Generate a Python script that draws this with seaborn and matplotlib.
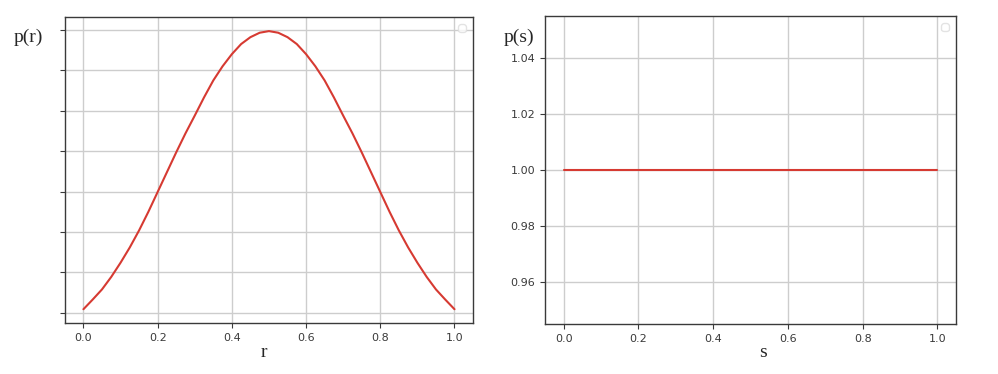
import matplotlib
matplotlib.use("Agg")
import matplotlib.pyplot as plt
import seaborn as sns

# values (left: bell shaped p(r), right: flat p(s))
r_vals = [0.0, 0.025, 0.05, 0.075, 0.1, 0.125, 0.15, 0.175, 0.2, 0.225, 0.25,
          0.275, 0.3, 0.325, 0.35, 0.375, 0.4, 0.425, 0.45, 0.475, 0.5,
          0.525, 0.55, 0.575, 0.6, 0.625, 0.65, 0.675, 0.7, 0.725, 0.75,
          0.775, 0.8, 0.825, 0.85, 0.875, 0.9, 0.925, 0.95, 0.975, 1.0]
p_r = [0.09, 0.33, 0.58, 0.89, 1.24, 1.62, 2.04, 2.5, 2.99, 3.48, 3.97,
       4.44, 4.88, 5.33, 5.75, 6.1, 6.4, 6.65, 6.82, 6.93, 6.97,
       6.93, 6.82, 6.65, 6.4, 6.1, 5.75, 5.33, 4.88, 4.44, 3.97,
       3.48, 2.99, 2.5, 2.04, 1.62, 1.24, 0.89, 0.58, 0.33, 0.09]
s_vals = [0.0, 1.0]
p_s = [1.0, 1.0]
x_ticks = [0.0, 0.2, 0.4, 0.6, 0.8, 1.0]
r_yticks = [0, 1, 2, 3, 4, 5, 6, 7]

sns.set_style("ticks")
line_color = "#d63a32"
grid_color = "#cdcdcd"
spine_color = "#3a3a3a"

fig = plt.figure(figsize=(9.98, 3.74), dpi=100)
ax1 = fig.add_axes([0.065, 0.136, 0.409, 0.818])
ax2 = fig.add_axes([0.546, 0.134, 0.412, 0.823])

sns.lineplot(x=r_vals, y=p_r, ax=ax1, color=line_color, linewidth=1.5)
sns.lineplot(x=s_vals, y=p_s, ax=ax2, color=line_color, linewidth=1.5)

ax1.set_yticks(r_yticks)
ax1.set_yticklabels([])
ax2.set_yticks([0.96, 0.98, 1.00, 1.02, 1.04])
ax2.set_yticklabels(["0.96", "0.98", "1.00", "1.02", "1.04"])
ax2.set_ylim(0.945, 1.055)

for ax in (ax1, ax2):
    ax.set_xticks(x_ticks)
    ax.set_xticklabels([f"{t:.1f}" for t in x_ticks])
    ax.grid(True, color=grid_color, linewidth=1.0)
    ax.set_axisbelow(True)
    ax.tick_params(labelsize=8, colors="#3a3a3a", length=3.5, width=0.8)
    for sp in ax.spines.values():
        sp.set_visible(True)
        sp.set_color(spine_color)
        sp.set_linewidth(1.0)
    leg = ax.legend(handles=[], loc="upper right", frameon=True,
                    handlelength=0.4, borderpad=0.3)
    leg.get_frame().set_edgecolor("#dddddd")

serif = ["Liberation Serif", "DejaVu Serif"]
fig.text(0.014, 0.9, "p(r)", family=serif, fontsize=14, ha="left", va="center")
fig.text(0.505, 0.9, "p(s)", family=serif, fontsize=14, ha="left", va="center")
fig.text(0.264, 0.058, "r", family=serif, fontsize=14, ha="center", va="center")
fig.text(0.765, 0.058, "s", family=serif, fontsize=14, ha="center", va="center")

fig.savefig("out.png", dpi=100)
